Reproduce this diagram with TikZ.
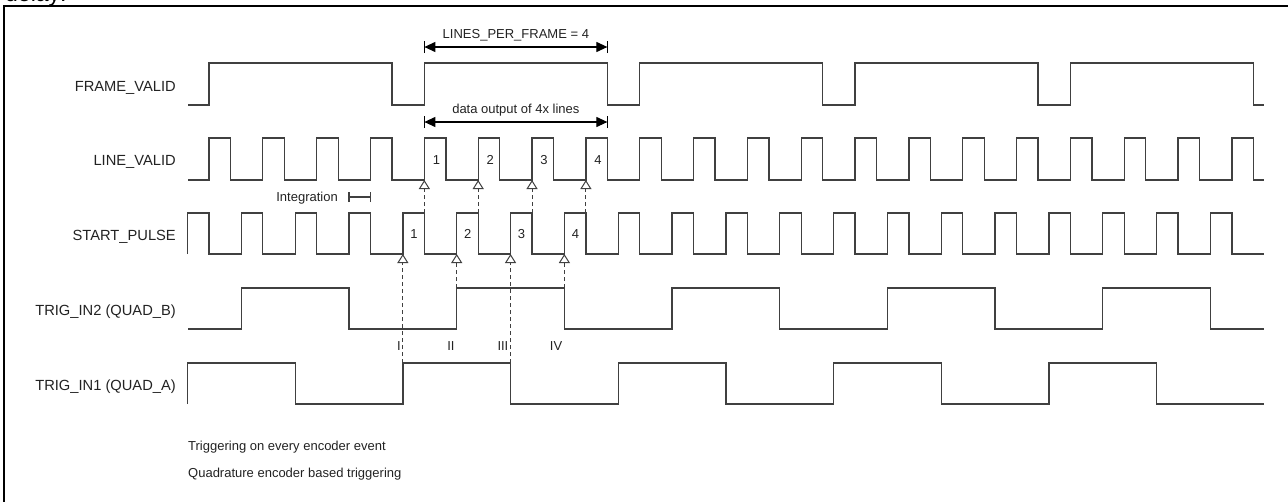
\documentclass[tikz,border=0pt]{standalone}
\usepackage{fontspec}
\setmainfont{Liberation Sans}
\usetikzlibrary{arrows.meta,calc}
\definecolor{wavec}{HTML}{404040}
\definecolor{txtc}{HTML}{222222}
\tikzset{
  wave/.style={draw=wavec, line width=1.3pt, line join=miter},
  trigarrow/.style={draw=wavec, line width=1pt, dash pattern=on 4pt off 3pt, -{Triangle[open, length=9pt, width=11pt, line width=1pt]}},
  dimarrow/.style={draw=black, line width=1.1pt, {Triangle[length=11pt, width=10pt]}-{Triangle[length=11pt, width=10pt]}},
  dimbar/.style={draw=black, line width=1.1pt},
  siglabel/.style={anchor=base east, inner sep=0pt, text=txtc, font=\fontsize{14.7pt}{16pt}\selectfont},
  annot/.style={inner sep=0pt, text=txtc, font=\fontsize{13pt}{15pt}\selectfont},
  frameline/.style={draw=black, line width=1.3pt}
}
\begin{document}
\begin{tikzpicture}[x=1pt, y=-1pt]
\useasboundingbox (0,0) rectangle (1288,501);
\def\P{53.84}
% caption fragment above the frame (cut off at the top edge, as in the reference)
\node[anchor=base west, inner sep=0pt, text=black, font=\fontsize{23pt}{26pt}\selectfont] (delaytxt) at (5,1) {delay:};
% frame
\draw[frameline] (4,502) -- (4,6) -- (1290,6);
% signal labels
\node[siglabel] (lfv) at (176,91) {FRAME\_VALID};
\node[siglabel] (llv) at (176,165) {LINE\_VALID};
\node[siglabel] (lsp) at (176,240) {START\_PULSE};
\node[siglabel] (lt2) at (176,315) {TRIG\_IN2 (QUAD\_B)};
\node[siglabel] (lt1) at (176,390) {TRIG\_IN1 (QUAD\_A)};
% FRAME_VALID
\draw[wave] (188,105) foreach \k in {0,...,4} { -- ({209+4*\k*\P},105) -- ({209+4*\k*\P},63) -- ({230.5+(4*\k+3)*\P},63) -- ({230.5+(4*\k+3)*\P},105) } -- (1264,105);
% LINE_VALID
\draw[wave] (188,180) foreach \k in {0,...,19} { -- ({209+\k*\P},180) -- ({209+\k*\P},138) -- ({230.5+\k*\P},138) -- ({230.5+\k*\P},180) } -- (1264,180);
% START_PULSE
\draw[wave] (187.5,254) -- (187.5,213) -- (209,213) -- (209,254) foreach \k in {1,...,19} { -- ({187.5+\k*\P},254) -- ({187.5+\k*\P},213) -- ({209+\k*\P},213) -- ({209+\k*\P},254) } -- (1264,254);
% TRIG_IN2
\draw[wave] (188,329) foreach \k in {0,...,4} { -- ({187.5+(4*\k+1)*\P},329) -- ({187.5+(4*\k+1)*\P},288) -- ({187.5+(4*\k+3)*\P},288) -- ({187.5+(4*\k+3)*\P},329) } -- (1264,329);
% TRIG_IN1
\draw[wave] (187.5,404) foreach \k in {0,...,4} { -- ({187.5+4*\k*\P},404) -- ({187.5+4*\k*\P},363) -- ({187.5+(4*\k+2)*\P},363) -- ({187.5+(4*\k+2)*\P},404) } -- (1264,404);
% coordinates for the triggering chain
\foreach \i/\k/\ty in {1/4/363, 2/5/288, 3/6/363, 4/7/288} {
  \coordinate (trg\i) at ({187.5+\k*\P},\ty);
  \coordinate (spl\i) at ({187.5+\k*\P},254);
  \coordinate (spf\i) at ({209+\k*\P},213);
  \coordinate (lvl\i) at ({209+\k*\P},180);
}
\foreach \i in {1,...,4} {
  \draw[trigarrow] (trg\i) -- (spl\i);
  \draw[trigarrow] (spf\i) -- (lvl\i);
}
% pulse numbers
\foreach \i/\k in {1/4, 2/5, 3/6, 4/7} {
  \node[annot, anchor=base] (lvn\i) at ({221+\k*\P},164) {\i};
  \node[annot, anchor=base] (spn\i) at ({198.5+\k*\P},238) {\i};
}
% roman numerals
\node[annot, anchor=base east] (r1) at ({185.5+4*\P},350) {I};
\node[annot, anchor=base east] (r2) at ({185.5+5*\P},350) {II};
\node[annot, anchor=base east] (r3) at ({185.5+6*\P},350) {III};
\node[annot, anchor=base east] (r4) at ({185.5+7*\P},350) {IV};
% integration bracket
\node[annot, anchor=base east] (integ) at (338,201) {Integration};
\coordinate (ia) at ({187.5+3*\P},197);
\coordinate (ib) at ({209+3*\P},197);
\draw[wave, line width=1.1pt] (ia) -- (ib);
\draw[wave, line width=1.1pt] ([yshift=-5pt]ia) -- ([yshift=5pt]ia);
\draw[wave, line width=1.1pt] ([yshift=-5pt]ib) -- ([yshift=5pt]ib);
% dimension arrows
\coordinate (d1a) at ({209+4*\P},47);
\coordinate (d1b) at ({230.5+7*\P},47);
\coordinate (d2a) at ({209+4*\P},122);
\coordinate (d2b) at ({230.5+7*\P},122);
\draw[dimarrow] (d1a) -- (d1b);
\draw[dimarrow] (d2a) -- (d2b);
\foreach \c in {d1a,d1b,d2a,d2b} {
  \draw[dimbar] ([yshift=-6pt]\c) -- ([yshift=6pt]\c);
}
\node[annot, anchor=base] (lpf) at ($(d1a)!0.5!(d1b)+(0,-9)$) {LINES\_PER\_FRAME = 4};
\node[annot, anchor=base] (dout) at ($(d2a)!0.5!(d2b)+(0,-9)$) {data output of 4x lines};
% bottom notes
\node[annot, anchor=base west] (n1) at (188,450) {Triggering on every encoder event};
\node[annot, anchor=base west] (n2) at (188,477) {Quadrature encoder based triggering};
\end{tikzpicture}
\end{document}
